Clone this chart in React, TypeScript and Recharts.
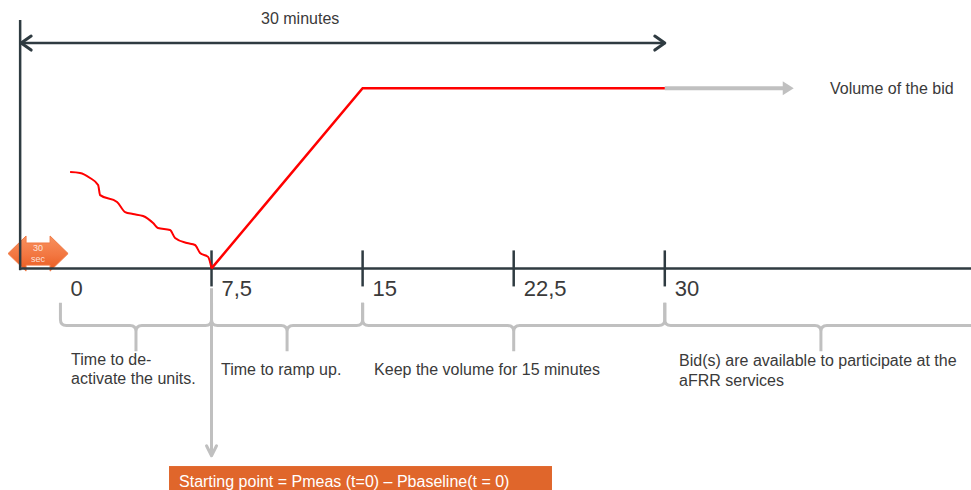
import React from 'react';
import {
  LineChart,
  Line,
  XAxis,
  YAxis,
  ReferenceLine,
  ReferenceArea,
  ReferenceDot,
} from 'recharts';

// minutes on the time axis, volume in % of the bid
const TICKS = [7.5, 15, 22.5, 30];
const TICK_LABEL_AT = [0, 7.5, 15, 22.5, 30];
const TICK_LABELS = ['0', '7,5', '15', '22,5', '30'];

const RAMP_MIN = [7.5, 15, 30];
const RAMP_VOL = [0, 100, 100];

const WAVE_MIN = [0.48, 0.97, 1.47, 1.87, 1.97, 2.81, 3.21, 3.6, 4.1, 4.6, 4.84, 5.44, 5.69, 6.28, 6.68, 6.93, 7.33, 7.5];
const WAVE_VOL = [53.5, 53, 50.2, 46.3, 40.7, 36.9, 31.3, 30.2, 29.1, 25.2, 22.4, 21.3, 16.9, 14.1, 13, 8.6, 6.4, 0];

const TAIL_MIN = [30, 35.9];
const TAIL_VOL = [100, 100];

const BRACE_FROM = [0, 7.5, 15, 30];
const BRACE_TO = [7.5, 15, 30, 45.5];

const ramp = RAMP_MIN.map((t, i) => ({ t, v: RAMP_VOL[i] }));
const wave = WAVE_MIN.map((t, i) => ({ t, v: WAVE_VOL[i] }));
const tail = TAIL_MIN.map((t, i) => ({ t, v: TAIL_VOL[i] }));

const X_DOMAIN = [-3, 45.2];
const Y_DOMAIN = [-123, 149];

const DARK = '#2f3b41';
const GREY = '#c0c0c0';
const TEXT = '#3a3a3a';
const FONT = '"Liberation Sans", Arial, sans-serif';

const NOTES = [
  { t: 0.53, v: -53.6, lines: ['Time to de-', 'activate the units.'] },
  { t: 7.97, v: -59.2, lines: ['Time to ramp up.'] },
  { t: 15.57, v: -59.2, lines: ['Keep the volume for 15 minutes'] },
  { t: 30.71, v: -54.2, lines: ['Bid(s) are available to participate at the', 'aFRR services'] },
  { t: 38.2, v: 96.8, lines: ['Volume of the bid'] },
];

const textShape = (lines: string[], opts: any = {}) => (p: any) => (
  <text
    x={p.cx + (opts.dx || 0)}
    y={p.cy}
    fill={opts.fill || TEXT}
    fontSize={opts.size || 16}
    fontFamily={FONT}
    textAnchor={opts.anchor || 'start'}
  >
    {lines.map((l, i) => (
      <tspan key={i} x={p.cx + (opts.dx || 0)} dy={i === 0 ? 0 : 19.5}>
        {l}
      </tspan>
    ))}
  </text>
);

const chevron = (dir: 'left' | 'right' | 'down', color: string) => (p: any) => {
  const { cx, cy } = p;
  let d = '';
  if (dir === 'left') d = `M${cx + 10},${cy - 7} L${cx},${cy} L${cx + 10},${cy + 7}`;
  if (dir === 'right') d = `M${cx - 10},${cy - 7} L${cx},${cy} L${cx - 10},${cy + 7}`;
  if (dir === 'down') d = `M${cx - 5},${cy - 10} L${cx},${cy} L${cx + 5},${cy - 10}`;
  return <path d={d} fill="none" stroke={color} strokeWidth={3} strokeLinecap="round" strokeLinejoin="round" />;
};

const triangleRight = (p: any) => (
  <path d={`M${p.cx},${p.cy} L${p.cx - 11},${p.cy - 7} L${p.cx - 11},${p.cy + 7} Z`} fill={GREY} />
);

const braceShape = (p: any) => {
  const { x, y, width, height } = p;
  const x1 = x + width;
  const cx = x + width / 2;
  const ym = y + height * 0.47;
  const yb = y + height;
  const r = 6;
  const d =
    `M${x},${y} L${x},${ym - r} Q${x},${ym} ${x + r},${ym} L${cx - r},${ym} Q${cx},${ym} ${cx},${ym + r} L${cx},${yb} ` +
    `M${cx},${ym + r} Q${cx},${ym} ${cx + r},${ym} L${x1 - r},${ym} Q${x1},${ym} ${x1},${ym - r} L${x1},${y}`;
  return <path d={d} fill="none" stroke={GREY} strokeWidth={3} strokeLinejoin="round" />;
};

const secArrowShape = (p: any) => {
  const { x, y, width: w, height: h } = p;
  const hw = 18;
  const pts = [
    [x, y + h / 2],
    [x + hw, y],
    [x + hw, y + 7],
    [x + w - hw, y + 7],
    [x + w - hw, y],
    [x + w, y + h / 2],
    [x + w - hw, y + h],
    [x + w - hw, y + h - 6],
    [x + hw, y + h - 6],
    [x + hw, y + h],
  ]
    .map((q) => q.join(','))
    .join(' ');
  return (
    <g>
      <polygon points={pts} fill="url(#secGrad)" stroke="#f07a45" strokeWidth={1} strokeLinejoin="round" />
      <text x={x + w / 2} y={y + 15} fill="#fff" fillOpacity={0.8} fontSize={9} fontFamily={FONT} textAnchor="middle">30</text>
      <text x={x + w / 2} y={y + 26} fill="#fff" fillOpacity={0.8} fontSize={9} fontFamily={FONT} textAnchor="middle">sec</text>
    </g>
  );
};

const startBoxShape = (p: any) => (
  <g>
    <rect x={p.x} y={p.y} width={p.width} height={p.height} fill="#e0662b" />
    <text x={p.x + 10} y={p.y + 21} fill="#fff" fontSize={16} fontFamily={FONT}>
      Starting point = Pmeas (t=0) – Pbaseline(t = 0)
    </text>
  </g>
);

export default function App() {
  return (
    <div style={{ position: 'absolute', left: 0, top: 0, background: '#fff' }}>
      <svg width={0} height={0} style={{ position: 'absolute' }}>
        <defs>
          <linearGradient id="secGrad" x1="0" y1="0" x2="0" y2="1">
            <stop offset="0%" stopColor="#f8915f" />
            <stop offset="55%" stopColor="#f27640" />
            <stop offset="100%" stopColor="#e95a1f" />
          </linearGradient>
        </defs>
      </svg>
      <LineChart width={971} height={490} margin={{ top: 0, right: 0, bottom: 0, left: 0 }}>
        <XAxis type="number" dataKey="t" domain={X_DOMAIN} allowDataOverflow hide />
        <YAxis type="number" dataKey="v" domain={Y_DOMAIN} allowDataOverflow hide />

        {BRACE_FROM.map((f, i) => (
          <ReferenceArea key={`br-${i}`} x1={f} x2={BRACE_TO[i]} y1={-19} y2={-46} ifOverflow="hidden" shape={braceShape} />
        ))}

        {/* starting point pointer */}
        <ReferenceLine segment={[{ x: 7.5, y: -11 }, { x: 7.5, y: -104 }]} stroke={GREY} strokeWidth={3} />
        <ReferenceDot x={7.5} y={-104} shape={chevron('down', GREY)} />
        <ReferenceArea x1={5.39} x2={24.4} y1={-109.7} y2={-123} ifOverflow="hidden" shape={startBoxShape} />

        {/* axes */}
        <ReferenceLine segment={[{ x: -2, y: 0 }, { x: 45.2, y: 0 }]} stroke={DARK} strokeWidth={2.5} />
        <ReferenceLine segment={[{ x: -2, y: -1 }, { x: -2, y: 137.9 }]} stroke={DARK} strokeWidth={2.5} />
        {TICKS.map((t) => (
          <ReferenceLine key={`tk-${t}`} segment={[{ x: t, y: 10 }, { x: t, y: -10 }]} stroke={DARK} strokeWidth={2.5} />
        ))}
        {TICK_LABEL_AT.map((t, i) => (
          <ReferenceDot key={`tl-${i}`} x={t} y={-15.3} shape={textShape([TICK_LABELS[i]], { dx: 10, size: 22 })} />
        ))}

        {/* 30 minutes span */}
        <ReferenceLine segment={[{ x: -2, y: 125.1 }, { x: 30, y: 125.1 }]} stroke={DARK} strokeWidth={2.5} />
        <ReferenceDot x={-1.95} y={125.1} shape={chevron('left', DARK)} />
        <ReferenceDot x={30} y={125.1} shape={chevron('right', DARK)} />
        <ReferenceDot x={11.9} y={135.7} shape={textShape(['30 minutes'], { anchor: 'middle' })} />

        {/* bid volume */}
        <Line data={tail} dataKey="v" stroke={GREY} strokeWidth={4} dot={false} activeDot={false} isAnimationActive={false} />
        <ReferenceDot x={36.4} y={100} shape={triangleRight} />
        <Line data={wave} dataKey="v" type="monotone" stroke="#ff0000" strokeWidth={2} dot={false} activeDot={false} isAnimationActive={false} />
        <Line data={ramp} dataKey="v" stroke="#ff0000" strokeWidth={2.5} dot={false} activeDot={false} isAnimationActive={false} />

        <ReferenceArea x1={-2.6} x2={0.38} y1={18} y2={-1.5} shape={secArrowShape} />

        {NOTES.map((n, i) => (
          <ReferenceDot key={`nt-${i}`} x={n.t} y={n.v} shape={textShape(n.lines)} />
        ))}
      </LineChart>
    </div>
  );
}
